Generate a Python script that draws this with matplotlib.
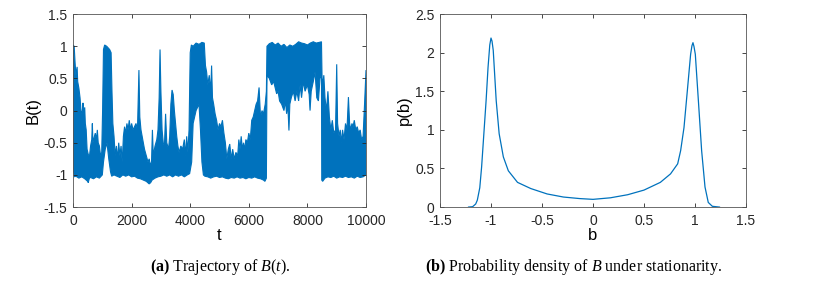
import numpy as np
import matplotlib
matplotlib.use('Agg')
import matplotlib.pyplot as plt
from matplotlib.ticker import FormatStrFormatter

plt.rcParams['font.family'] = ['Liberation Sans', 'DejaVu Sans']
plt.rcParams['axes.unicode_minus'] = False
plt.rcParams['mathtext.fontset'] = 'custom'
plt.rcParams['mathtext.rm'] = 'Liberation Serif'
plt.rcParams['mathtext.it'] = 'Liberation Serif:italic'
plt.rcParams['mathtext.bf'] = 'Liberation Serif:bold'

# trajectory B(t): upper and lower envelope of the dense noisy line
hi_t = [0, 40, 70, 100, 140, 160, 200, 240, 280, 320, 340, 360, 400, 420, 450, 480, 520, 560,
        600, 640, 660, 680, 720, 760, 800, 830, 860, 900, 940, 980, 1010, 1040, 1080, 1150,
        1250, 1300, 1330, 1360, 1400, 1440, 1480, 1520, 1560, 1600, 1640, 1680, 1720, 1760,
        1800, 1840, 1880, 1920, 1960, 2000, 2050, 2100, 2150, 2200, 2250, 2280, 2320, 2380,
        2440, 2500, 2560, 2600, 2640, 2680, 2710, 2740, 2800, 2860, 2900, 2940, 2970, 3000,
        3040, 3080, 3120, 3160, 3200, 3260, 3300, 3340, 3380, 3420, 3460, 3500, 3540, 3580,
        3620, 3680, 3740, 3800, 3840, 3880, 3920, 3960, 4000, 4040, 4100, 4200, 4300, 4400,
        4480, 4520, 4560, 4600, 4650, 4700, 4730, 4760, 4800, 4850, 4900, 4950, 5000, 5050,
        5100, 5150, 5200, 5250, 5300, 5350, 5400, 5450, 5500, 5560, 5620, 5660, 5700, 5740,
        5780, 5820, 5860, 5900, 5950, 6000, 6050, 6100, 6150, 6200, 6250, 6300, 6350, 6400,
        6450, 6500, 6560, 6600, 6620, 6700, 6800, 6900, 7000, 7100, 7200, 7300, 7400, 7500,
        7600, 7700, 7800, 7900, 8000, 8100, 8200, 8300, 8400, 8480, 8500, 8520, 8560, 8600,
        8650, 8700, 8750, 8800, 8850, 8900, 8960, 9000, 9030, 9080, 9120, 9160, 9200, 9250,
        9300, 9350, 9400, 9440, 9480, 9520, 9560, 9600, 9650, 9700, 9750, 9800, 9850, 9900,
        9950, 10000]
hi_b = [1.02, 1.0, 0.75, 0.55, 0.68, 0.45, 0.35, 0.2, -0.05, 0.0, 0.12, -0.05, 0.05, -0.2,
        -0.3, -0.6, -0.68, -0.72, -0.55, -0.45, -0.2, -0.5, -0.42, -0.35, -0.45, -0.3, -0.5,
        -0.55, -0.7, -0.65, 0.0, 0.95, 1.02, 1.0, 0.95, 0.9, 0.3, -0.2, -0.4, -0.7, -0.55,
        -0.75, -0.5, -0.7, -0.55, -0.8, -0.4, -0.25, -0.35, -0.2, -0.3, -0.15, -0.3, -0.2,
        -0.3, -0.25, -0.2, -0.3, 0.63, -0.1, -0.3, -0.45, -0.6, -0.7, -0.8, -0.75, -0.85,
        -0.8, -0.3, -0.7, -0.55, -0.45, -0.3, 0.2, 0.95, 0.3, -0.3, -0.5, -0.55, -0.05, -0.5,
        -0.6, -0.4, 0.1, 0.32, 0.25, 0.0, -0.2, -0.4, -0.55, -0.65, -0.55, -0.6, -0.45, -0.7,
        -0.4, -0.65, -0.3, 0.9, 1.02, 1.0, 1.05, 1.03, 1.06, 1.05, 0.7, 0.6, 0.4, 0.55, 0.3,
        0.7, 0.2, 0.1, -0.05, -0.15, -0.3, -0.2, -0.25, -0.15, -0.35, -0.5, -0.75, -0.6,
        -0.52, -0.75, -0.6, -0.75, -0.65, -0.7, -0.45, -0.6, -0.4, -0.6, -0.5, -0.6, -0.45,
        -0.5, -0.35, -0.45, -0.15, -0.1, 0.0, 0.1, 0.15, 0.36, -0.1, 0.0, -0.05, 0.1, 0.3,
        1.0, 1.04, 1.06, 1.02, 1.05, 1.0, 1.03, 0.98, 1.02, 1.0, 1.03, 1.07, 1.05, 1.04,
        1.02, 1.05, 1.07, 1.05, 1.06, 1.07, 0.5, 0.4, 0.55, 0.2, 0.0, 0.3, -0.1, -0.3, -0.15,
        -0.35, -0.3, 0.72, -0.2, -0.4, -0.3, -0.5, -0.3, -0.45, -0.2, -0.3, 0.21, -0.2, -0.3,
        -0.2, -0.25, -0.15, -0.3, -0.25, -0.35, -0.3, -0.45, -0.4, 0.1, 0.63]

lo_t = [0, 50, 100, 200, 300, 400, 500, 520, 560, 600, 700, 800, 900, 1000, 1040, 1100,
        1160, 1220, 1280, 1320, 1400, 1500, 1600, 1700, 1800, 1900, 2000, 2100, 2200, 2300,
        2400, 2500, 2600, 2650, 2700, 2800, 2900, 3000, 3100, 3200, 3300, 3400, 3500, 3600,
        3700, 3800, 3900, 3980, 4050, 4100, 4200, 4300, 4350, 4400, 4450, 4500, 4600, 4700,
        4800, 4900, 5000, 5100, 5200, 5300, 5400, 5500, 5600, 5700, 5800, 5900, 6000, 6100,
        6200, 6300, 6400, 6500, 6550, 6600, 6620, 6700, 6780, 6850, 6950, 7000, 7050, 7120,
        7200, 7250, 7290, 7330, 7370, 7400, 7450, 7520, 7580, 7640, 7700, 7750, 7800, 7860,
        7920, 8000, 8060, 8090, 8130, 8200, 8260, 8320, 8375, 8430, 8480, 8490, 8520, 8600,
        8700, 8800, 8900, 9000, 9100, 9200, 9300, 9400, 9500, 9600, 9700, 9800, 9900, 10000]
lo_b = [-0.9, -1.03, -1.02, -1.05, -1.03, -1.06, -1.1, -1.12, -1.05, -1.04, -1.06, -1.03,
        -1.05, -1.0, -0.8, -0.6, -0.5, -0.75, -0.95, -1.02, -1.0, -1.02, -1.04, -1.0, -1.02,
        -1.0, -1.03, -1.02, -1.05, -1.06, -1.08, -1.1, -1.14, -1.12, -1.08, -1.05, -1.03,
        -1.02, -1.0, -1.02, -1.0, -1.03, -1.0, -1.02, -1.0, -1.03, -1.0, -0.98, -0.8, -0.2,
        0.0, 0.1, -0.3, -0.8, -1.0, -1.02, -1.03, -1.05, -1.03, -1.02, -1.04, -1.03, -1.05,
        -1.06, -1.04, -1.05, -1.03, -1.05, -1.04, -1.06, -1.04, -1.05, -1.03, -1.05, -1.06,
        -1.08, -1.1, -1.05, 0.55, 0.5, 0.4, 0.45, 0.26, 0.3, 0.15, 0.1, 0.0, 0.15, -0.05, 0.1,
        -0.31, 0.1, 0.2, 0.3, 0.15, 0.3, 0.15, 0.4, 0.2, 0.45, 0.3, 0.4, 0.25, 0.0, 0.3, 0.45,
        0.6, 0.2, 0.15, 0.5, 0.55, -1.08, -1.1, -1.05, -1.03, -1.04, -1.02, -1.05, -1.03,
        -1.04, -1.02, -1.04, -1.03, -1.05, -1.02, -1.04, -1.03, -1.0]

# stationary density p(b)
dens_b = [-1.22, -1.18, -1.15, -1.134, -1.11, -1.092, -1.07, -1.048, -1.029, -1.012, -1.0,
          -0.99, -0.978, -0.949, -0.92, -0.879, -0.83, -0.74, -0.61, -0.45, -0.29, -0.13, 0.0,
          0.17, 0.34, 0.5, 0.66, 0.76, 0.83, 0.859, 0.892, 0.925, 0.957, 0.97, 0.98, 0.99,
          1.003, 1.033, 1.065, 1.098, 1.13, 1.17, 1.24]
dens_p = [0.0, 0.005, 0.04, 0.09, 0.25, 0.52, 0.95, 1.38, 1.81, 2.1, 2.19, 2.15, 2.03, 1.38,
          0.95, 0.65, 0.47, 0.32, 0.24, 0.17, 0.13, 0.11, 0.10, 0.12, 0.16, 0.22, 0.32, 0.43,
          0.56, 0.73, 1.03, 1.51, 1.98, 2.09, 2.13, 2.08, 1.98, 1.38, 0.73, 0.26, 0.06, 0.01,
          0.0]

blue = (0.0, 0.447, 0.741)
dark = '#262626'

fig = plt.figure(figsize=(8.13, 2.88), dpi=100)
ax1 = fig.add_axes([0.0898, 0.281, 0.3604, 0.670])
ax2 = fig.add_axes([0.5412, 0.281, 0.3764, 0.670])

poly_t = np.concatenate([hi_t, lo_t[::-1]])
poly_b = np.concatenate([hi_b, lo_b[::-1]])
ax1.fill(poly_t, poly_b, color=blue, lw=0.8)
ax1.set_xlim(0, 10000)
ax1.set_ylim(-1.5, 1.5)
ax1.set_xticks(np.arange(0, 10001, 2000))
ax1.set_yticks(np.arange(-1.5, 1.51, 0.5))
ax1.set_xlabel('t', fontsize=12, labelpad=0)
ax1.set_ylabel('B(t)', fontsize=12, labelpad=2)

ax2.plot(dens_b, dens_p, color=blue, lw=0.9)
ax2.set_xlim(-1.5, 1.5)
ax2.set_ylim(0, 2.5)
ax2.set_xticks(np.arange(-1.5, 1.51, 0.5))
ax2.set_yticks(np.arange(0, 2.51, 0.5))
ax2.set_xlabel('b', fontsize=12, labelpad=0)
ax2.set_ylabel('p(b)', fontsize=12, labelpad=2)

for ax in (ax1, ax2):
    ax.xaxis.set_major_formatter(FormatStrFormatter('%g'))
    ax.yaxis.set_major_formatter(FormatStrFormatter('%g'))
    ax.tick_params(direction='in', top=True, right=True, length=3, width=0.6,
                   labelsize=10, colors=dark)
    ax.tick_params(axis='x', pad=5)
    ax.tick_params(axis='y', pad=4)
    for s in ax.spines.values():
        s.set_linewidth(0.6)
        s.set_color('#555555')

cap = dict(ha='center', fontsize=11.5, family='Liberation Serif')
fig.text(0.271, 0.06, r'$\mathbf{(a)}$ Trajectory of $B(t)$.', **cap)
fig.text(0.705, 0.06, r'$\mathbf{(b)}$ Probability density of $B$ under stationarity.', **cap)

fig.savefig('out.png', dpi=100)
